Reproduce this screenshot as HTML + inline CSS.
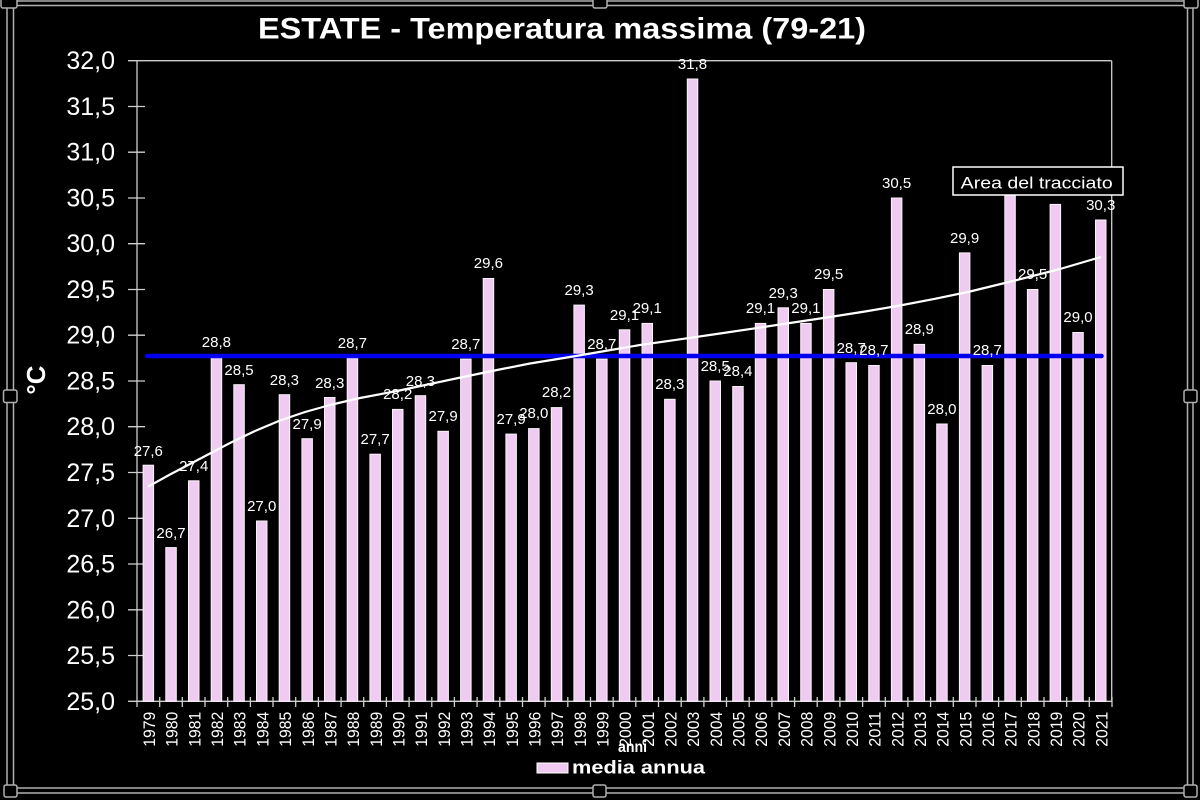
<!DOCTYPE html>
<html>
<head>
<meta charset="utf-8">
<style>
html,body{margin:0;padding:0;background:#000;}
svg{display:block;}
text{font-family:"Liberation Sans",Arial,sans-serif;fill:#fff;}
</style>
</head>
<body>
<svg width="1200" height="800" viewBox="0 0 1200 800" xmlns="http://www.w3.org/2000/svg">
<rect x="0" y="0" width="1200" height="800" fill="#000"/>

<!-- outer double frame -->
<rect x="7" y="1" width="1186" height="792" fill="none" stroke="#b0b0b0" stroke-width="1.5"/>
<rect x="13.5" y="5.5" width="1174" height="782.5" fill="none" stroke="#b0b0b0" stroke-width="1.5"/>
<g fill="#000" stroke="#b0b0b0" stroke-width="1.5">
<rect x="1" y="-5" width="16" height="13" rx="2"/>
<rect x="593" y="-5" width="14" height="13" rx="2"/>
<rect x="1184" y="-5" width="14" height="13" rx="2"/>
<rect x="3.5" y="390" width="13.5" height="12.5" rx="2"/>
<rect x="1184" y="390" width="13" height="12.5" rx="2"/>
<rect x="4" y="785" width="13" height="12" rx="2"/>
<rect x="593" y="785" width="13" height="12" rx="2"/>
<rect x="1184" y="785" width="13" height="12" rx="2"/>
</g>

<!-- title -->
<text x="258" y="38.3" font-size="30" font-weight="bold" textLength="608" lengthAdjust="spacingAndGlyphs">ESTATE - Temperatura massima (79-21)</text>

<!-- plot borders -->
<g stroke="#cfcfcf" stroke-width="1.3" fill="none">
<line x1="137" y1="60.7" x2="1111.7" y2="60.7"/>
<line x1="1111.7" y1="60.7" x2="1111.7" y2="701.3"/>
<line x1="137" y1="60.7" x2="137" y2="707"/>
<line x1="137" y1="701.3" x2="1112" y2="701.3"/>
<path d="M128 60.7H137M128 106.5H145M128 152.2H145M128 198H145M128 243.7H145M128 289.5H145M128 335.2H145M128 381H145M128 426.7H145M128 472.5H145M128 518.3H145M128 564H145M128 609.8H145M128 655.5H145M128 701.3H145"/>
<path d="M159.7 697V707M182.3 697V707M205 697V707M227.7 697V707M250.4 697V707M273 697V707M295.7 697V707M318.4 697V707M341.1 697V707M363.7 697V707M386.4 697V707M409.1 697V707M431.8 697V707M454.4 697V707M477.1 697V707M499.8 697V707M522.5 697V707M545.1 697V707M567.8 697V707M590.5 697V707M613.2 697V707M635.8 697V707M658.5 697V707M681.2 697V707M703.9 697V707M726.5 697V707M749.2 697V707M771.9 697V707M794.6 697V707M817.2 697V707M839.9 697V707M862.6 697V707M885.3 697V707M907.9 697V707M930.6 697V707M953.3 697V707M976 697V707M998.6 697V707M1021.3 697V707M1044 697V707M1066.7 697V707M1089.3 697V707M1112 697V707"/>
</g>

<!-- y labels -->
<g font-size="25" text-anchor="end">
<text x="115" y="69.2">32,0</text>
<text x="115" y="115">31,5</text>
<text x="115" y="160.7">31,0</text>
<text x="115" y="206.5">30,5</text>
<text x="115" y="252.2">30,0</text>
<text x="115" y="298">29,5</text>
<text x="115" y="343.7">29,0</text>
<text x="115" y="389.5">28,5</text>
<text x="115" y="435.2">28,0</text>
<text x="115" y="481">27,5</text>
<text x="115" y="526.8">27,0</text>
<text x="115" y="572.5">26,5</text>
<text x="115" y="618.3">26,0</text>
<text x="115" y="664">25,5</text>
<text x="115" y="709.8">25,0</text>
</g>
<text transform="translate(45,380) rotate(-90)" text-anchor="middle" font-size="26" font-weight="bold">°C</text>

<!-- bars -->
<g fill="#efcbf2" stroke="#faf2fa" stroke-width="1">
<rect x="143.1" y="465.2" width="10.5" height="236.1"/>
<rect x="165.8" y="547.6" width="10.5" height="153.7"/>
<rect x="188.5" y="480.8" width="10.5" height="220.5"/>
<rect x="211.2" y="357.2" width="10.5" height="344.1"/>
<rect x="233.8" y="384.7" width="10.5" height="316.6"/>
<rect x="256.5" y="521" width="10.5" height="180.3"/>
<rect x="279.2" y="394.7" width="10.5" height="306.6"/>
<rect x="301.9" y="438.7" width="10.5" height="262.6"/>
<rect x="324.5" y="397.5" width="10.5" height="303.8"/>
<rect x="347.2" y="358.1" width="10.5" height="343.2"/>
<rect x="369.9" y="454.2" width="10.5" height="247.1"/>
<rect x="392.5" y="409.4" width="10.5" height="291.9"/>
<rect x="415.2" y="395.7" width="10.5" height="305.6"/>
<rect x="437.9" y="431.3" width="10.5" height="270"/>
<rect x="460.6" y="359.1" width="10.5" height="342.2"/>
<rect x="483.2" y="278.5" width="10.5" height="422.8"/>
<rect x="505.9" y="434.1" width="10.5" height="267.2"/>
<rect x="528.6" y="428.6" width="10.5" height="272.7"/>
<rect x="551.3" y="407.6" width="10.5" height="293.7"/>
<rect x="573.9" y="305.1" width="10.5" height="396.2"/>
<rect x="596.6" y="359.1" width="10.5" height="342.2"/>
<rect x="619.3" y="329.8" width="10.5" height="371.5"/>
<rect x="642" y="323.4" width="10.5" height="377.9"/>
<rect x="664.6" y="399.3" width="10.5" height="302"/>
<rect x="687.3" y="79" width="10.5" height="622.3"/>
<rect x="710" y="381" width="10.5" height="320.3"/>
<rect x="732.7" y="386.5" width="10.5" height="314.8"/>
<rect x="755.3" y="323.4" width="10.5" height="377.9"/>
<rect x="778" y="307.8" width="10.5" height="393.5"/>
<rect x="800.7" y="323.4" width="10.5" height="377.9"/>
<rect x="823.4" y="289.5" width="10.5" height="411.8"/>
<rect x="846" y="362.7" width="10.5" height="338.6"/>
<rect x="868.7" y="365.5" width="10.5" height="335.8"/>
<rect x="891.4" y="198" width="10.5" height="503.3"/>
<rect x="914.1" y="344.4" width="10.5" height="356.9"/>
<rect x="936.7" y="424" width="10.5" height="277.3"/>
<rect x="959.4" y="252.9" width="10.5" height="448.4"/>
<rect x="982.1" y="365.5" width="10.5" height="335.8"/>
<rect x="1004.8" y="188.8" width="10.5" height="512.5"/>
<rect x="1027.4" y="289.5" width="10.5" height="411.8"/>
<rect x="1050.1" y="204.4" width="10.5" height="496.9"/>
<rect x="1072.8" y="332.5" width="10.5" height="368.8"/>
<rect x="1095.5" y="220" width="10.5" height="481.3"/>
</g>

<!-- mean line -->
<line x1="147" y1="356" x2="1101.5" y2="356" stroke="#0000ee" stroke-width="4.5" stroke-linecap="round"/>

<!-- trend line -->
<polyline fill="none" stroke="#ffffff" stroke-width="2.2" stroke-linejoin="round" points="148,486.7 170,474.5 190,464 210,453.5 230,443 255,431 280,420.5 305,412 330,405 360,398 397,391 430,384 463,377 497,370 530,363.5 570,357 605,351 640,345 680,339.3 720,333.5 755,328.3 790,323 830,317 865,311.5 900,305.5 935,298.8 970,291.5 1013,281 1060,269 1101,257"/>

<!-- data labels -->
<g font-size="15" text-anchor="middle">
<text x="148.3" y="456">27,6</text>
<text x="171" y="538">26,7</text>
<text x="193.7" y="471">27,4</text>
<text x="216.4" y="347">28,8</text>
<text x="239" y="375">28,5</text>
<text x="261.7" y="511">27,0</text>
<text x="284.4" y="385">28,3</text>
<text x="307.1" y="429">27,9</text>
<text x="329.7" y="388">28,3</text>
<text x="352.4" y="348">28,7</text>
<text x="375.1" y="444">27,7</text>
<text x="397.7" y="399">28,2</text>
<text x="420.4" y="386">28,3</text>
<text x="443.1" y="421">27,9</text>
<text x="465.8" y="349">28,7</text>
<text x="488.4" y="268">29,6</text>
<text x="511.1" y="424">27,9</text>
<text x="533.8" y="418">28,0</text>
<text x="556.5" y="397">28,2</text>
<text x="579.1" y="295">29,3</text>
<text x="601.8" y="349">28,7</text>
<text x="624.5" y="320">29,1</text>
<text x="647.2" y="313">29,1</text>
<text x="669.8" y="389">28,3</text>
<text x="692.5" y="69">31,8</text>
<text x="715.2" y="371">28,5</text>
<text x="737.9" y="376">28,4</text>
<text x="760.5" y="313">29,1</text>
<text x="783.2" y="298">29,3</text>
<text x="805.9" y="313">29,1</text>
<text x="828.6" y="279">29,5</text>
<text x="851.2" y="353">28,7</text>
<text x="873.9" y="355">28,7</text>
<text x="896.6" y="188">30,5</text>
<text x="919.3" y="334">28,9</text>
<text x="941.9" y="414">28,0</text>
<text x="964.6" y="243">29,9</text>
<text x="987.3" y="355">28,7</text>
<text x="1032.6" y="279">29,5</text>
<text x="1078" y="322">29,0</text>
<text x="1100.7" y="210">30,3</text>
</g>

<!-- tooltip -->
<rect x="953" y="167" width="170" height="28" fill="#000" stroke="#fff" stroke-width="1.5"/>
<text x="960.7" y="188.3" font-size="17" textLength="152" lengthAdjust="spacingAndGlyphs">Area del tracciato</text>

<!-- year labels -->
<g font-size="17">
<text transform="translate(155,746.7) rotate(-90)" textLength="35" lengthAdjust="spacingAndGlyphs">1979</text>
<text transform="translate(177.7,746.7) rotate(-90)" textLength="35" lengthAdjust="spacingAndGlyphs">1980</text>
<text transform="translate(200.4,746.7) rotate(-90)" textLength="35" lengthAdjust="spacingAndGlyphs">1981</text>
<text transform="translate(223.1,746.7) rotate(-90)" textLength="35" lengthAdjust="spacingAndGlyphs">1982</text>
<text transform="translate(245.7,746.7) rotate(-90)" textLength="35" lengthAdjust="spacingAndGlyphs">1983</text>
<text transform="translate(268.4,746.7) rotate(-90)" textLength="35" lengthAdjust="spacingAndGlyphs">1984</text>
<text transform="translate(291.1,746.7) rotate(-90)" textLength="35" lengthAdjust="spacingAndGlyphs">1985</text>
<text transform="translate(313.8,746.7) rotate(-90)" textLength="35" lengthAdjust="spacingAndGlyphs">1986</text>
<text transform="translate(336.4,746.7) rotate(-90)" textLength="35" lengthAdjust="spacingAndGlyphs">1987</text>
<text transform="translate(359.1,746.7) rotate(-90)" textLength="35" lengthAdjust="spacingAndGlyphs">1988</text>
<text transform="translate(381.8,746.7) rotate(-90)" textLength="35" lengthAdjust="spacingAndGlyphs">1989</text>
<text transform="translate(404.4,746.7) rotate(-90)" textLength="35" lengthAdjust="spacingAndGlyphs">1990</text>
<text transform="translate(427.1,746.7) rotate(-90)" textLength="35" lengthAdjust="spacingAndGlyphs">1991</text>
<text transform="translate(449.8,746.7) rotate(-90)" textLength="35" lengthAdjust="spacingAndGlyphs">1992</text>
<text transform="translate(472.5,746.7) rotate(-90)" textLength="35" lengthAdjust="spacingAndGlyphs">1993</text>
<text transform="translate(495.1,746.7) rotate(-90)" textLength="35" lengthAdjust="spacingAndGlyphs">1994</text>
<text transform="translate(517.8,746.7) rotate(-90)" textLength="35" lengthAdjust="spacingAndGlyphs">1995</text>
<text transform="translate(540.5,746.7) rotate(-90)" textLength="35" lengthAdjust="spacingAndGlyphs">1996</text>
<text transform="translate(563.2,746.7) rotate(-90)" textLength="35" lengthAdjust="spacingAndGlyphs">1997</text>
<text transform="translate(585.8,746.7) rotate(-90)" textLength="35" lengthAdjust="spacingAndGlyphs">1998</text>
<text transform="translate(608.5,746.7) rotate(-90)" textLength="35" lengthAdjust="spacingAndGlyphs">1999</text>
<text transform="translate(631.2,746.7) rotate(-90)" textLength="35" lengthAdjust="spacingAndGlyphs">2000</text>
<text transform="translate(653.9,746.7) rotate(-90)" textLength="35" lengthAdjust="spacingAndGlyphs">2001</text>
<text transform="translate(676.5,746.7) rotate(-90)" textLength="35" lengthAdjust="spacingAndGlyphs">2002</text>
<text transform="translate(699.2,746.7) rotate(-90)" textLength="35" lengthAdjust="spacingAndGlyphs">2003</text>
<text transform="translate(721.9,746.7) rotate(-90)" textLength="35" lengthAdjust="spacingAndGlyphs">2004</text>
<text transform="translate(744.6,746.7) rotate(-90)" textLength="35" lengthAdjust="spacingAndGlyphs">2005</text>
<text transform="translate(767.2,746.7) rotate(-90)" textLength="35" lengthAdjust="spacingAndGlyphs">2006</text>
<text transform="translate(789.9,746.7) rotate(-90)" textLength="35" lengthAdjust="spacingAndGlyphs">2007</text>
<text transform="translate(812.6,746.7) rotate(-90)" textLength="35" lengthAdjust="spacingAndGlyphs">2008</text>
<text transform="translate(835.3,746.7) rotate(-90)" textLength="35" lengthAdjust="spacingAndGlyphs">2009</text>
<text transform="translate(857.9,746.7) rotate(-90)" textLength="35" lengthAdjust="spacingAndGlyphs">2010</text>
<text transform="translate(880.6,746.7) rotate(-90)" textLength="35" lengthAdjust="spacingAndGlyphs">2011</text>
<text transform="translate(903.3,746.7) rotate(-90)" textLength="35" lengthAdjust="spacingAndGlyphs">2012</text>
<text transform="translate(926,746.7) rotate(-90)" textLength="35" lengthAdjust="spacingAndGlyphs">2013</text>
<text transform="translate(948.6,746.7) rotate(-90)" textLength="35" lengthAdjust="spacingAndGlyphs">2014</text>
<text transform="translate(971.3,746.7) rotate(-90)" textLength="35" lengthAdjust="spacingAndGlyphs">2015</text>
<text transform="translate(994,746.7) rotate(-90)" textLength="35" lengthAdjust="spacingAndGlyphs">2016</text>
<text transform="translate(1016.7,746.7) rotate(-90)" textLength="35" lengthAdjust="spacingAndGlyphs">2017</text>
<text transform="translate(1039.3,746.7) rotate(-90)" textLength="35" lengthAdjust="spacingAndGlyphs">2018</text>
<text transform="translate(1062,746.7) rotate(-90)" textLength="35" lengthAdjust="spacingAndGlyphs">2019</text>
<text transform="translate(1084.7,746.7) rotate(-90)" textLength="35" lengthAdjust="spacingAndGlyphs">2020</text>
<text transform="translate(1107.4,746.7) rotate(-90)" textLength="35" lengthAdjust="spacingAndGlyphs">2021</text>
</g>

<!-- axis title & legend -->
<text x="618" y="752" font-size="16" font-weight="bold" textLength="29" lengthAdjust="spacingAndGlyphs">anni</text>
<rect x="537" y="763" width="31" height="10" fill="#efcbf2" stroke="#fff" stroke-width="1"/>
<text x="572" y="773.5" font-size="18" font-weight="bold" textLength="133" lengthAdjust="spacingAndGlyphs">media annua</text>
</svg>
</body>
</html>
